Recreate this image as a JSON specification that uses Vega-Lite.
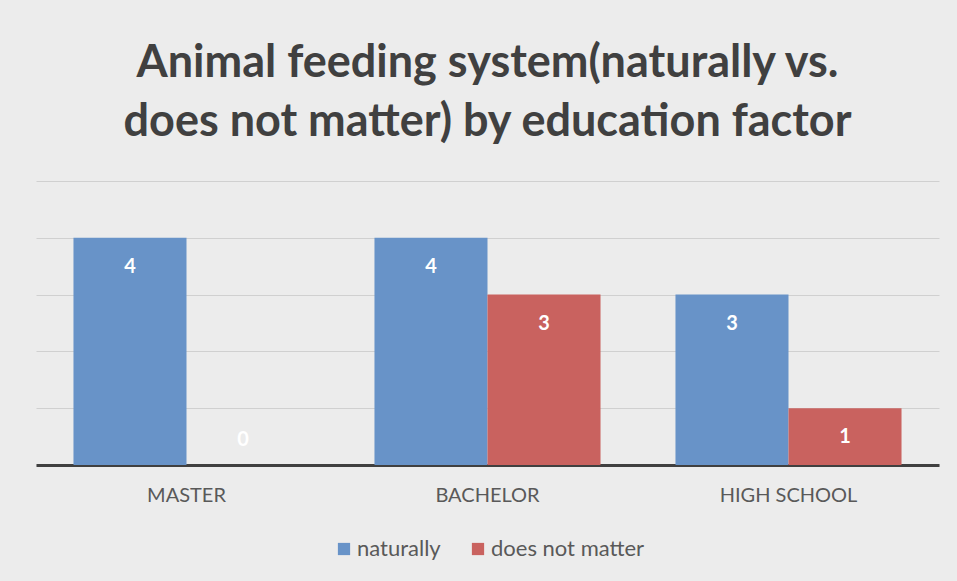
{
  "$schema": "https://vega.github.io/schema/vega-lite/v6.json",
  "width": 903,
  "height": 284,
  "autosize": {"type": "none"},
  "padding": {"left": 36, "top": 181, "right": 18, "bottom": 116},
  "background": "#ececec",
  "title": {
    "text": ["Animal feeding system(naturally vs.", "does not matter) by education factor"],
    "font": "Lato",
    "fontSize": 45,
    "fontWeight": "bold",
    "color": "#404040",
    "anchor": "middle",
    "lineHeight": 59,
    "offset": 36
  },
  "data": {
    "values": [
      {"education": "MASTER", "series": "naturally", "count": 4},
      {"education": "MASTER", "series": "does not matter", "count": 0},
      {"education": "BACHELOR", "series": "naturally", "count": 4},
      {"education": "BACHELOR", "series": "does not matter", "count": 3},
      {"education": "HIGH SCHOOL", "series": "naturally", "count": 3},
      {"education": "HIGH SCHOOL", "series": "does not matter", "count": 1}
    ]
  },
  "encoding": {
    "x": {
      "field": "education",
      "type": "nominal",
      "sort": ["MASTER", "BACHELOR", "HIGH SCHOOL"],
      "scale": {"paddingInner": 0.249, "paddingOuter": 0.1245},
      "axis": {
        "title": null,
        "labelAngle": 0,
        "labelFont": "Lato",
        "labelFontSize": 20,
        "labelColor": "#595959",
        "labelPadding": 20,
        "ticks": false,
        "domainColor": "#404040",
        "domainWidth": 3
      }
    },
    "xOffset": {
      "field": "series",
      "type": "nominal",
      "sort": ["naturally", "does not matter"],
      "scale": {"paddingInner": 0, "paddingOuter": 0}
    },
    "y": {
      "field": "count",
      "type": "quantitative",
      "scale": {"domain": [0, 5]},
      "axis": {
        "title": null,
        "labels": false,
        "ticks": false,
        "domain": false,
        "tickCount": 5,
        "gridColor": "#d0d0d0",
        "gridWidth": 1
      }
    }
  },
  "layer": [
    {
      "mark": {"type": "bar"},
      "encoding": {
        "color": {
          "field": "series",
          "type": "nominal",
          "sort": ["naturally", "does not matter"],
          "scale": {"domain": ["naturally", "does not matter"], "range": ["#6893c8", "#c9625f"]},
          "legend": {
            "title": null,
            "orient": "none",
            "direction": "horizontal",
            "legendX": 297,
            "legendY": 357,
            "symbolType": "square",
            "symbolSize": 150,
            "symbolStrokeWidth": 0,
            "labelFont": "Lato",
            "labelFontSize": 22,
            "labelColor": "#595959",
            "columnPadding": 26,
            "labelOffset": 2
          }
        }
      }
    },
    {
      "transform": [{"filter": "datum.count > 0"}],
      "mark": {"type": "text", "font": "Lato", "fontWeight": "bold", "fontSize": 20, "color": "#ffffff", "baseline": "middle", "dy": 29},
      "encoding": {"text": {"field": "count", "type": "quantitative"}}
    },
    {
      "transform": [{"filter": "datum.count == 0"}],
      "mark": {"type": "text", "font": "Lato", "fontWeight": "bold", "fontSize": 20, "color": "#ffffff", "baseline": "middle", "dy": -25},
      "encoding": {"text": {"field": "count", "type": "quantitative"}}
    }
  ],
  "config": {"view": {"stroke": null}}
}
